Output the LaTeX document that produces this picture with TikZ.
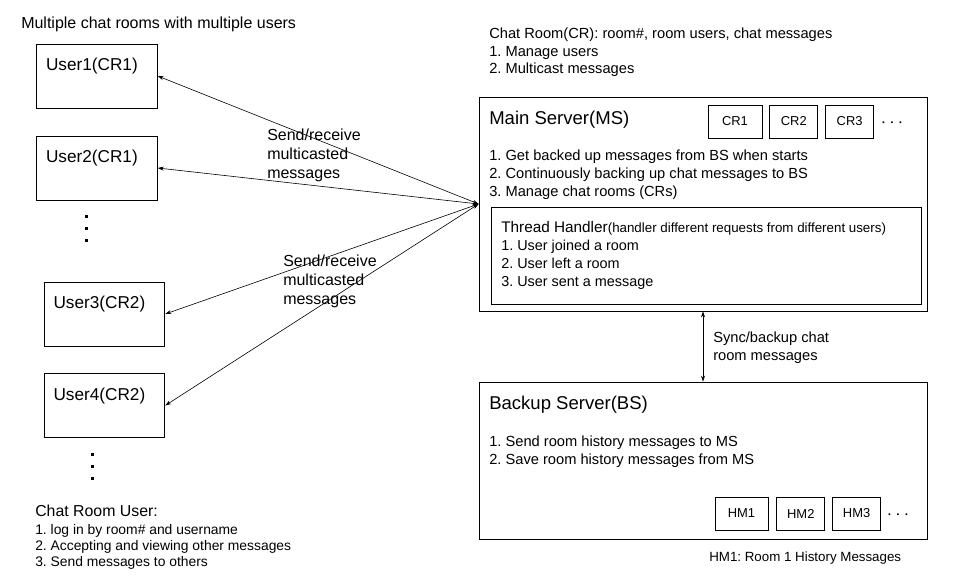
\documentclass[tikz,border=0pt]{standalone}
\usepackage{fontspec}
\setmainfont{Liberation Sans}
\usetikzlibrary{arrows.meta,positioning}
\frenchspacing

\begin{document}
\begin{tikzpicture}[
  x=0.75pt, y=-0.75pt,
  box/.style={draw, line width=0.6pt, inner sep=0pt},
  userbox/.style={box, minimum width=90.5pt, minimum height=48pt},
  usertxt/.style={anchor=base west, inner sep=0pt, font=\fontsize{12.9}{15}\selectfont},
  roombox/.style={box, minimum width=36pt, minimum height=24.75pt, font=\fontsize{9.7}{11}\selectfont},
  more/.style={inner sep=0pt, font=\fontsize{14}{16}\selectfont},
  head/.style={anchor=base west, inner sep=0pt, font=\fontsize{13.9}{16}\selectfont},
  body/.style={anchor=north west, inner sep=0pt, align=left, font=\fontsize{11}{13.5}\selectfont},
  note/.style={anchor=north west, inner sep=0pt, align=left, font=\fontsize{12}{14.25}\selectfont},
  arr/.style={{Stealth[length=4.5pt,width=3pt]}-{Stealth[length=4.5pt,width=3pt]}, line width=0.45pt}
]
\useasboundingbox[fill=white] (0,0) rectangle (960,584);

\node[anchor=base west, inner sep=0pt, font=\fontsize{12}{14}\selectfont] (title) at (21,28.7) {Multiple chat rooms with multiple users};

\node[userbox] (u1) at (97,76) {};
\node[userbox] (u2) at (97,168) {};
\node[userbox] (u3) at (104.5,314) {};
\node[userbox] (u4) at (104.5,405.5) {};
\node[usertxt] (u1txt) at ([shift={(9.5,27)}]u1.north west) {User1(CR1)};
\node[usertxt] (u2txt) at ([shift={(9.5,27)}]u2.north west) {User2(CR1)};
\node[usertxt] (u3txt) at ([shift={(9.5,27)}]u3.north west) {User3(CR2)};
\node[usertxt] (u4txt) at ([shift={(9.5,27)}]u4.north west) {User4(CR2)};
\fill (84.5,215.5) rectangle ++(3,3);
\fill (84.5,227.5) rectangle ++(3,3);
\fill (84.5,239.5) rectangle ++(3,3);
\fill (90.5,452.5) rectangle ++(3,3);
\fill (90.5,464.5) rectangle ++(3,3);
\fill (90.5,476.5) rectangle ++(3,3);

\node[anchor=base west, inner sep=0pt, font=\fontsize{11.9}{14}\selectfont] (crutitle) at (35,516.7) {Chat Room User:};
\node[body, font=\fontsize{10.4}{12}\selectfont] (crulist) at (35,524) {1. log in by room\# and username\\2. Accepting and viewing other messages\\3. Send messages to others};

\node[body, font=\fontsize{11}{13.1}\selectfont] (crinfo) at (489,27.7) {Chat Room(CR): room\#, room users, chat messages\\1. Manage users\\2. Multicast messages};

\node[box, minimum width=336pt, minimum height=160.5pt] (ms) at (703,204) {};
\node[head] (mstitle) at (489,124.6) {Main Server(MS)};
\node[roombox, minimum width=40.5pt] (cr1) at (735,121.5) {CR1};
\node[roombox, right=5.25pt of cr1] (cr2) {CR2};
\node[roombox, right=5.25pt of cr2] (cr3) {CR3};
\node[more] (crmore) at (892,123) {$\cdots$};
\node[body] (mslist) at (489,149.7) {1. Get backed up messages from BS when starts\\2. Continuously backing up chat messages to BS\\3. Manage chat rooms (CRs)};

\node[box, minimum width=322.5pt, minimum height=72.75pt] (th) at (706,255.5) {};
\node[anchor=base west, inner sep=0pt, font=\fontsize{11.5}{13.5}\selectfont] (thtitle) at (501,232.5) {Thread Handler{\fontsize{10}{12}\selectfont(handler different requests from different users)}};
\node[body, font=\fontsize{10.8}{13.5}\selectfont] (thlist) at (501,239.9) {1. User joined a room\\2. User left a room\\3. User sent a message};

\node[box, minimum width=336pt, minimum height=117.75pt] (bs) at (703,460.5) {};
\node[head] (bstitle) at (489,409.6) {Backup Server(BS)};
\node[body] (bslist) at (489,435.7) {1. Send room history messages to MS\\2. Save room history messages from MS};
\node[roombox, minimum width=39.75pt] (hm1) at (741.5,513.5) {HM1};
\node[roombox, right=6pt of hm1] (hm2) {HM2};
\node[roombox, right=5.25pt of hm2] (hm3) {HM3};
\node[more] (hmmore) at (898,515) {$\cdots$};
\node[anchor=base west, inner sep=0pt, font=\fontsize{10}{12}\selectfont] (hmnote) at (709,561.8) {HM1: Room 1 History Messages};

\draw[arr] (ms.west) -- (u1.east);
\draw[arr] (ms.west) -- (u2.east);
\draw[arr] (ms.west) -- (u3.east);
\draw[arr] (ms.west) -- (u4.east);
\node[note] (sendA) at (267,128.2) {Send/receive\\multicasted\\messages};
\node[note] (sendB) at (283,254.2) {Send/receive\\multicasted\\messages};

\draw[arr] (ms.south) -- (bs.north);
\node[body] (synclbl) at (713,331.7) {Sync/backup chat\\room messages};
\end{tikzpicture}
\end{document}
